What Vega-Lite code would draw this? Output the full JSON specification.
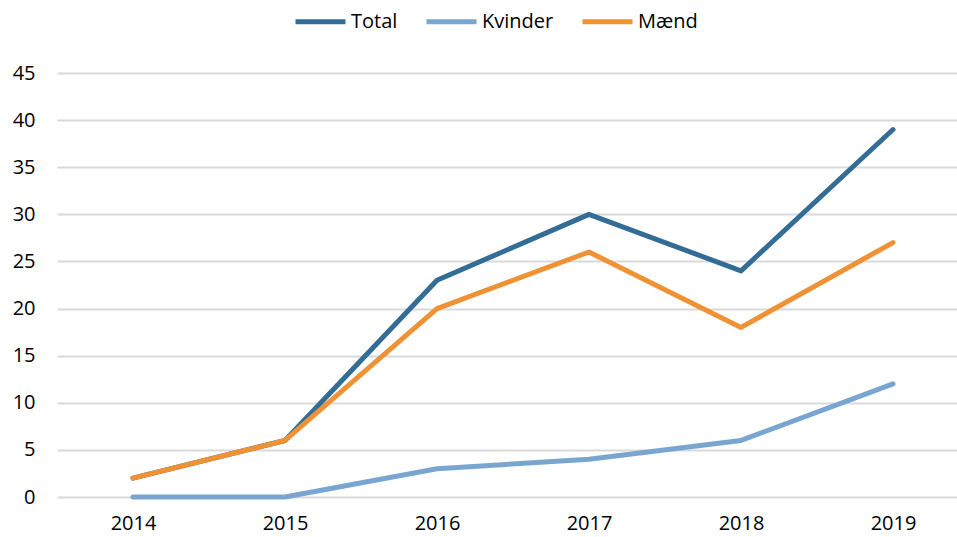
{
  "$schema": "https://vega.github.io/schema/vega-lite/v6.json",
  "width": 900,
  "height": 424,
  "autosize": {"type": "none"},
  "padding": {"left": 57, "top": 73, "right": 0, "bottom": 40},
  "background": "white",
  "config": {
    "font": "Open Sans",
    "view": {"stroke": null}
  },
  "data": {
    "values": [
      {"year": 2014, "series": "Total", "value": 2},
      {"year": 2015, "series": "Total", "value": 6},
      {"year": 2016, "series": "Total", "value": 23},
      {"year": 2017, "series": "Total", "value": 30},
      {"year": 2018, "series": "Total", "value": 24},
      {"year": 2019, "series": "Total", "value": 39},
      {"year": 2014, "series": "Kvinder", "value": 0},
      {"year": 2015, "series": "Kvinder", "value": 0},
      {"year": 2016, "series": "Kvinder", "value": 3},
      {"year": 2017, "series": "Kvinder", "value": 4},
      {"year": 2018, "series": "Kvinder", "value": 6},
      {"year": 2019, "series": "Kvinder", "value": 12},
      {"year": 2014, "series": "Mænd", "value": 2},
      {"year": 2015, "series": "Mænd", "value": 6},
      {"year": 2016, "series": "Mænd", "value": 20},
      {"year": 2017, "series": "Mænd", "value": 26},
      {"year": 2018, "series": "Mænd", "value": 18},
      {"year": 2019, "series": "Mænd", "value": 27}
    ]
  },
  "mark": {"type": "line", "strokeWidth": 5, "strokeCap": "round", "strokeJoin": "round"},
  "encoding": {
    "x": {
      "field": "year",
      "type": "quantitative",
      "scale": {"domain": [2013.5, 2019.421], "nice": false, "zero": false},
      "axis": {
        "title": null,
        "values": [2014, 2015, 2016, 2017, 2018, 2019],
        "format": "d",
        "grid": false,
        "domain": false,
        "ticks": false,
        "labelFontSize": 20,
        "labelColor": "#000000",
        "labelPadding": 16
      }
    },
    "y": {
      "field": "value",
      "type": "quantitative",
      "scale": {"domain": [0, 45], "nice": false},
      "axis": {
        "title": null,
        "values": [0, 5, 10, 15, 20, 25, 30, 35, 40, 45],
        "grid": true,
        "gridColor": "#D9D9D9",
        "gridWidth": 2,
        "domain": false,
        "ticks": false,
        "labelFontSize": 20,
        "labelColor": "#000000",
        "labelPadding": 22
      }
    },
    "color": {
      "field": "series",
      "type": "nominal",
      "sort": ["Total", "Kvinder", "Mænd"],
      "scale": {
        "domain": ["Total", "Kvinder", "Mænd"],
        "range": ["#336D96", "#79A6D1", "#EF9236"]
      },
      "legend": {
        "title": null,
        "orient": "none",
        "legendX": 236,
        "legendY": -79,
        "direction": "horizontal",
        "symbolType": "stroke",
        "symbolSize": 2500,
        "symbolStrokeWidth": 5,
        "labelFontSize": 20,
        "labelColor": "#000000",
        "labelOffset": 3,
        "columnPadding": 18
      }
    }
  }
}
